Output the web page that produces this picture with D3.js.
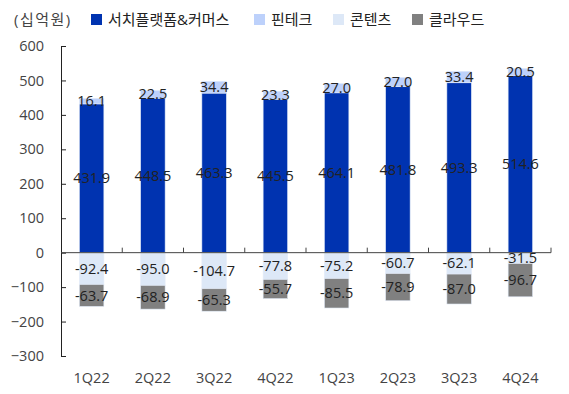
<!DOCTYPE html>
<html>
<head>
<meta charset="utf-8">
<script src="https://cdn.jsdelivr.net/npm/d3@7"></script>
<style>
  body { margin: 0; background: #fff; }
  text { font-family: "Open Sans", "Noto Sans CJK KR", sans-serif; }
</style>
</head>
<body>
<div id="container"></div>
<script>
const quarters = ['1Q22', '2Q22', '3Q22', '4Q22', '1Q23', '2Q23', '3Q23', '4Q24'];
const search = [431.9, 448.5, 463.3, 445.5, 464.1, 481.8, 493.3, 514.6];
const fintech = [16.1, 22.5, 34.4, 23.3, 27.0, 27.0, 33.4, 20.5];
const content = [-92.4, -95.0, -104.7, -77.8, -75.2, -60.7, -62.1, -31.5];
const cloud = [-63.7, -68.9, -65.3, -55.7, -85.5, -78.9, -87.0, -96.7];
const yTicks = [-300, -200, -100, 0, 100, 200, 300, 400, 500, 600];
const seriesNames = ['서치플랫폼&커머스', '핀테크', '콘텐츠', '클라우드'];
const colors = ['#0033b0', '#bdd1fb', '#dde8f7', '#808080'];

const width = 569, height = 394;
const svg = d3.select('#container').append('svg').attr('width', width).attr('height', height);

const x = d3.scaleBand().domain(quarters).range([61, 551]).paddingInner(0.6).paddingOuter(0.3);
const y = d3.scaleLinear().domain([-300, 600]).range([356, 46]);

// stacked segments: positive up, negative down
let segs = [];
quarters.forEach((q, i) => {
    segs.push({ q, s: 0, y0: 0, y1: search[i], v: search[i] });
    segs.push({ q, s: 1, y0: search[i], y1: search[i] + fintech[i], v: fintech[i] });
    segs.push({ q, s: 2, y0: 0, y1: content[i], v: content[i] });
    segs.push({ q, s: 3, y0: content[i], y1: content[i] + cloud[i], v: cloud[i] });
});

svg.selectAll('rect.bar')
    .data(segs)
    .enter()
    .append('rect')
    .attr('class', 'bar')
    .attr('x', d => x(d.q))
    .attr('width', x.bandwidth())
    .attr('y', d => y(Math.max(d.y0, d.y1)))
    .attr('height', d => Math.abs(y(d.y0) - y(d.y1)))
    .attr('fill', d => colors[d.s])
    .attr('stroke', '#e3ebf8').attr('stroke-width', 0.6);

// y axis
const yAxis = d3.axisLeft(y).tickValues(yTicks).tickSizeInner(-5).tickSizeOuter(-5).tickPadding(17);
const gy = svg.append('g').attr('transform', 'translate(61,0)').call(yAxis);
gy.selectAll('path, line').attr('stroke', '#222').attr('stroke-width', 1);
gy.selectAll('text').attr('font-size', 14.5).attr('fill', '#444');

// x axis line at zero with ticks between categories
svg.append('line')
    .attr('x1', 61).attr('x2', 551)
    .attr('y1', y(0)).attr('y2', y(0))
    .attr('stroke', '#444').attr('stroke-width', 1);
const bounds = d3.range(quarters.length + 1).map(i => 61 + x.step() * i);
svg.selectAll('line.xtick')
    .data(bounds.slice(1))
    .enter()
    .append('line')
    .attr('class', 'xtick')
    .attr('x1', d => d).attr('x2', d => d)
    .attr('y1', y(0)).attr('y2', y(0) - 5)
    .attr('stroke', '#444');

svg.selectAll('text.xlab')
    .data(quarters)
    .enter()
    .append('text')
    .attr('class', 'xlab')
    .attr('x', d => x(d) + x.bandwidth() / 2)
    .attr('y', 383)
    .attr('text-anchor', 'middle')
    .attr('font-size', 14.5).attr('fill', '#444')
    .text(d => d);

// data labels
svg.selectAll('text.lab')
    .data(segs)
    .enter()
    .append('text')
    .attr('class', 'lab')
    .attr('x', d => x(d.q) + x.bandwidth() / 2)
    .attr('y', d => y((d.y0 + d.y1) / 2))
    .attr('dy', '0.35em')
    .attr('text-anchor', 'middle')
    .attr('font-size', 14.5).attr('fill', '#222')
    .text(d => d.v.toFixed(1));

// legend
svg.append('text')
    .attr('x', 14).attr('y', 20).attr('dy', '0.35em')
    .attr('font-size', 15).attr('fill', '#444')
    .attr('letter-spacing', 1.5)
    .attr('font-family', '"Noto Sans CJK KR", sans-serif')
    .text('(십억원)');
const legX = [91, 254, 333, 412];
let leg = svg.selectAll('g.leg')
    .data(seriesNames)
    .enter()
    .append('g')
    .attr('class', 'leg')
    .attr('transform', (d, i) => `translate(${legX[i]}, 20)`);
leg.append('rect')
    .attr('x', 0).attr('y', -6)
    .attr('width', 11).attr('height', 11)
    .attr('fill', (d, i) => colors[i]);
leg.append('text')
    .attr('x', 17).attr('dy', '0.35em')
    .attr('font-size', 15).attr('fill', '#222')
    .attr('font-family', '"Noto Sans CJK KR", sans-serif')
    .text(d => d);
</script>
</body>
</html>
